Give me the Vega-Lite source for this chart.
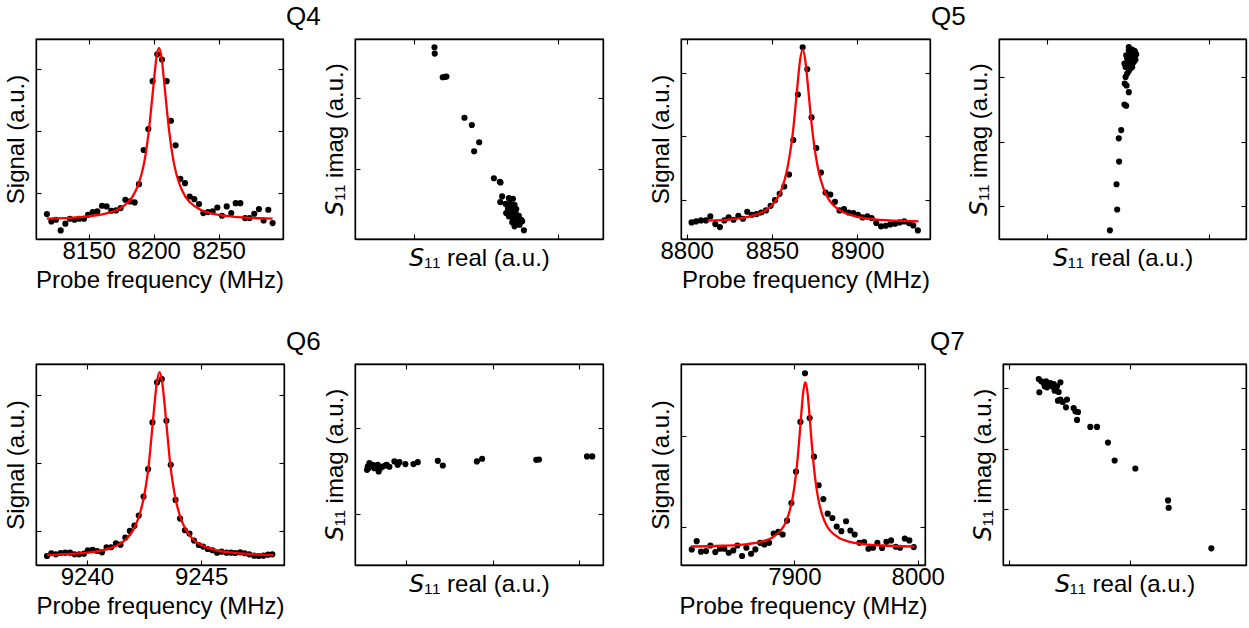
{
"$schema": "https://vega.github.io/schema/vega-lite/v6.json",
"background": "white",
"padding": {"left": 3, "top": 3, "right": 0, "bottom": 0},
"config": {
  "view": {"stroke": "black", "strokeWidth": 1.3},
  "axis": {"domainColor": "black", "domainWidth": 1.3, "tickColor": "black", "tickWidth": 1.1, "tickSize": -5, "grid": false,
    "labelFont": "Liberation Sans", "labelFontSize": 24, "labelColor": "black", "labelPadding": 5.7, "labelFlush": false,
    "titleFont": "Liberation Sans", "titleFontSize": 24, "titleFontWeight": "normal", "titleColor": "black"},
  "title": {"font": "Liberation Sans", "fontSize": 26, "fontWeight": "normal", "color": "black", "anchor": "start", "frame": "group", "baseline": "alphabetic", "offset": 8}
},
"datasets": {
  "q4_spec": [{"f":8117.9,"s":0.662},{"f":8121.3,"s":0.544},{"f":8124.9,"s":0.571},{"f":8128.5,"s":0.399},{"f":8132.1,"s":0.507},{"f":8135.6,"s":0.587},{"f":8139.2,"s":0.571},{"f":8142.8,"s":0.587},{"f":8146.4,"s":0.587},{"f":8149.5,"s":0.651},{"f":8153.1,"s":0.694},{"f":8156.7,"s":0.705},{"f":8160.3,"s":0.796},{"f":8163.8,"s":0.786},{"f":8167.4,"s":0.716},{"f":8171.0,"s":0.721},{"f":8174.6,"s":0.759},{"f":8178.2,"s":0.893},{"f":8181.8,"s":0.866},{"f":8185.4,"s":0.850},{"f":8188.7,"s":1.145},{"f":8192.3,"s":1.697},{"f":8195.9,"s":2.035},{"f":8199.2,"s":2.807},{"f":8202.8,"s":3.241},{"f":8206.4,"s":3.156},{"f":8210.0,"s":2.807},{"f":8213.3,"s":2.169},{"f":8216.9,"s":1.772},{"f":8220.5,"s":1.231},{"f":8224.1,"s":1.161},{"f":8227.7,"s":0.946},{"f":8231.3,"s":0.903},{"f":8234.9,"s":0.823},{"f":8238.2,"s":0.678},{"f":8241.8,"s":0.694},{"f":8245.4,"s":0.705},{"f":8249.0,"s":0.769},{"f":8252.6,"s":0.635},{"f":8256.2,"s":0.786},{"f":8259.7,"s":0.678},{"f":8263.1,"s":0.839},{"f":8266.7,"s":0.839},{"f":8270.3,"s":0.598},{"f":8273.8,"s":0.598},{"f":8277.4,"s":0.668},{"f":8281.0,"s":0.743},{"f":8284.6,"s":0.560},{"f":8288.2,"s":0.732},{"f":8291.5,"s":0.517}],
  "q4_fit": [{"f":8117.9,"s":0.590},{"f":8123.3,"s":0.593},{"f":8147.5,"s":0.622},{"f":8163.7,"s":0.673},{"f":8171.8,"s":0.729},{"f":8179.9,"s":0.844},{"f":8183.9,"s":0.949},{"f":8187.9,"s":1.121},{"f":8192.0,"s":1.420},{"f":8194.0,"s":1.650},{"f":8196.0,"s":1.955},{"f":8198.0,"s":2.343},{"f":8200.1,"s":2.788},{"f":8202.1,"s":3.180},{"f":8204.1,"s":3.343},{"f":8206.1,"s":3.180},{"f":8208.1,"s":2.788},{"f":8210.2,"s":2.343},{"f":8212.2,"s":1.955},{"f":8214.2,"s":1.650},{"f":8216.2,"s":1.420},{"f":8220.3,"s":1.121},{"f":8224.3,"s":0.949},{"f":8228.3,"s":0.844},{"f":8236.4,"s":0.729},{"f":8244.5,"s":0.673},{"f":8260.7,"s":0.622},{"f":8284.9,"s":0.593},{"f":8291.5,"s":0.590}],
  "q4_iq": [{"re":0.144,"im":1.707},{"re":0.146,"im":1.619},{"re":0.201,"im":1.288},{"re":0.218,"im":1.293},{"re":0.227,"im":1.298},{"re":0.352,"im":0.721},{"re":0.403,"im":0.619},{"re":0.454,"im":0.377},{"re":0.419,"im":0.251},{"re":0.556,"im":-0.126},{"re":0.597,"im":-0.177},{"re":0.602,"im":-0.186},{"re":0.613,"im":-0.381},{"re":0.660,"im":-0.405},{"re":0.688,"im":-0.414},{"re":0.600,"im":-0.460},{"re":0.637,"im":-0.484},{"re":0.669,"im":-0.484},{"re":0.699,"im":-0.498},{"re":0.653,"im":-0.544},{"re":0.683,"im":-0.544},{"re":0.711,"im":-0.558},{"re":0.641,"im":-0.614},{"re":0.676,"im":-0.614},{"re":0.706,"im":-0.605},{"re":0.660,"im":-0.660},{"re":0.699,"im":-0.670},{"re":0.729,"im":-0.651},{"re":0.688,"im":-0.707},{"re":0.715,"im":-0.707},{"re":0.745,"im":-0.707},{"re":0.683,"im":-0.744},{"re":0.722,"im":-0.744},{"re":0.752,"im":-0.730},{"re":0.706,"im":-0.777},{"re":0.734,"im":-0.777},{"re":0.699,"im":-0.800},{"re":0.764,"im":-0.856}],
  "q5_spec": [{"f":8802.9,"s":0.651},{"f":8805.5,"s":0.667},{"f":8808.4,"s":0.682},{"f":8811.3,"s":0.682},{"f":8813.9,"s":0.745},{"f":8816.8,"s":0.625},{"f":8819.5,"s":0.578},{"f":8822.1,"s":0.682},{"f":8824.6,"s":0.729},{"f":8827.5,"s":0.693},{"f":8830.3,"s":0.755},{"f":8833.0,"s":0.708},{"f":8835.5,"s":0.818},{"f":8838.3,"s":0.771},{"f":8841.0,"s":0.781},{"f":8843.7,"s":0.807},{"f":8846.5,"s":0.839},{"f":8849.2,"s":0.911},{"f":8851.8,"s":1.000},{"f":8854.5,"s":1.099},{"f":8857.2,"s":1.214},{"f":8860.0,"s":1.401},{"f":8862.5,"s":1.943},{"f":8865.2,"s":2.656},{"f":8868.0,"s":3.396},{"f":8870.7,"s":3.052},{"f":8873.2,"s":2.297},{"f":8876.0,"s":1.818},{"f":8878.7,"s":1.432},{"f":8881.4,"s":1.120},{"f":8884.2,"s":1.089},{"f":8886.9,"s":0.974},{"f":8889.6,"s":0.839},{"f":8892.2,"s":0.859},{"f":8894.9,"s":0.807},{"f":8897.7,"s":0.797},{"f":8900.4,"s":0.771},{"f":8903.1,"s":0.729},{"f":8905.9,"s":0.745},{"f":8908.4,"s":0.719},{"f":8911.1,"s":0.641},{"f":8913.9,"s":0.589},{"f":8916.6,"s":0.599},{"f":8919.3,"s":0.620},{"f":8922.1,"s":0.630},{"f":8924.8,"s":0.651},{"f":8927.5,"s":0.667},{"f":8930.3,"s":0.641},{"f":8932.8,"s":0.604},{"f":8935.5,"s":0.526}],
  "q5_fit": [{"f":8812.3,"s":0.678},{"f":8825.65,"s":0.700},{"f":8837.75,"s":0.750},{"f":8843.8,"s":0.806},{"f":8849.85,"s":0.917},{"f":8852.9,"s":1.020},{"f":8855.9,"s":1.189},{"f":8858.9,"s":1.481},{"f":8860.4,"s":1.705},{"f":8862.0,"s":2.003},{"f":8863.5,"s":2.382},{"f":8865.0,"s":2.816},{"f":8866.5,"s":3.199},{"f":8868.0,"s":3.359},{"f":8869.5,"s":3.199},{"f":8871.0,"s":2.816},{"f":8872.5,"s":2.382},{"f":8874.05,"s":2.003},{"f":8875.6,"s":1.705},{"f":8877.1,"s":1.481},{"f":8880.1,"s":1.189},{"f":8883.1,"s":1.020},{"f":8886.15,"s":0.917},{"f":8892.2,"s":0.806},{"f":8898.25,"s":0.750},{"f":8910.35,"s":0.700},{"f":8928.5,"s":0.673},{"f":8935.9,"s":0.667}],
  "q5_iq": [{"re":0.388,"im":-0.376},{"re":0.433,"im":-0.052},{"re":0.429,"im":0.340},{"re":0.445,"im":0.691},{"re":0.443,"im":1.052},{"re":0.458,"im":1.180},{"re":0.478,"im":1.577},{"re":0.489,"im":1.557},{"re":0.505,"im":1.768},{"re":0.480,"im":1.902},{"re":0.491,"im":1.871},{"re":0.485,"im":2.005},{"re":0.495,"im":2.057},{"re":0.505,"im":2.098},{"re":0.515,"im":2.134},{"re":0.485,"im":2.160},{"re":0.501,"im":2.186},{"re":0.526,"im":2.160},{"re":0.478,"im":2.211},{"re":0.509,"im":2.237},{"re":0.536,"im":2.237},{"re":0.495,"im":2.289},{"re":0.522,"im":2.314},{"re":0.546,"im":2.273},{"re":0.489,"im":2.340},{"re":0.515,"im":2.366},{"re":0.536,"im":2.376},{"re":0.551,"im":2.356},{"re":0.505,"im":2.418},{"re":0.526,"im":2.428},{"re":0.505,"im":2.469},{"re":0.542,"im":2.407}],
  "q6_spec": [{"f":9238.25,"s":0.632},{"f":9238.44,"s":0.672},{"f":9238.64,"s":0.657},{"f":9238.85,"s":0.676},{"f":9239.05,"s":0.681},{"f":9239.26,"s":0.681},{"f":9239.46,"s":0.657},{"f":9239.66,"s":0.657},{"f":9239.87,"s":0.667},{"f":9240.04,"s":0.716},{"f":9240.25,"s":0.721},{"f":9240.45,"s":0.706},{"f":9240.66,"s":0.686},{"f":9240.86,"s":0.760},{"f":9241.06,"s":0.760},{"f":9241.27,"s":0.819},{"f":9241.47,"s":0.799},{"f":9241.68,"s":0.902},{"f":9241.88,"s":1.000},{"f":9242.08,"s":1.078},{"f":9242.27,"s":1.225},{"f":9242.48,"s":1.505},{"f":9242.68,"s":1.907},{"f":9242.87,"s":2.593},{"f":9243.07,"s":3.181},{"f":9243.28,"s":3.230},{"f":9243.48,"s":2.618},{"f":9243.67,"s":1.971},{"f":9243.88,"s":1.456},{"f":9244.08,"s":1.181},{"f":9244.29,"s":1.010},{"f":9244.49,"s":0.961},{"f":9244.69,"s":0.858},{"f":9244.90,"s":0.794},{"f":9245.09,"s":0.770},{"f":9245.29,"s":0.735},{"f":9245.50,"s":0.716},{"f":9245.70,"s":0.681},{"f":9245.90,"s":0.696},{"f":9246.11,"s":0.681},{"f":9246.31,"s":0.681},{"f":9246.50,"s":0.676},{"f":9246.71,"s":0.686},{"f":9246.91,"s":0.672},{"f":9247.11,"s":0.657},{"f":9247.32,"s":0.637},{"f":9247.52,"s":0.632},{"f":9247.73,"s":0.637},{"f":9247.93,"s":0.652},{"f":9248.12,"s":0.657}],
  "q6_fit": [{"f":9238.25,"s":0.648},{"f":9238.44,"s":0.650},{"f":9239.86,"s":0.677},{"f":9240.81,"s":0.727},{"f":9241.28,"s":0.782},{"f":9241.76,"s":0.894},{"f":9242.0,"s":0.997},{"f":9242.23,"s":1.165},{"f":9242.47,"s":1.457},{"f":9242.59,"s":1.680},{"f":9242.71,"s":1.978},{"f":9242.82,"s":2.357},{"f":9242.94,"s":2.791},{"f":9243.06,"s":3.174},{"f":9243.18,"s":3.333},{"f":9243.30,"s":3.174},{"f":9243.42,"s":2.791},{"f":9243.54,"s":2.357},{"f":9243.65,"s":1.978},{"f":9243.77,"s":1.680},{"f":9243.89,"s":1.457},{"f":9244.13,"s":1.165},{"f":9244.37,"s":0.997},{"f":9244.60,"s":0.894},{"f":9245.08,"s":0.782},{"f":9245.55,"s":0.727},{"f":9246.50,"s":0.677},{"f":9247.92,"s":0.650},{"f":9248.16,"s":0.647}],
  "q6_iq": [{"re":-0.452,"im":0.512},{"re":-0.444,"im":0.550},{"re":-0.425,"im":0.589},{"re":-0.436,"im":0.531},{"re":-0.405,"im":0.550},{"re":-0.386,"im":0.570},{"re":-0.367,"im":0.531},{"re":-0.347,"im":0.550},{"re":-0.328,"im":0.570},{"re":-0.317,"im":0.492},{"re":-0.309,"im":0.523},{"re":-0.290,"im":0.539},{"re":-0.270,"im":0.550},{"re":-0.239,"im":0.562},{"re":-0.224,"im":0.570},{"re":-0.193,"im":0.547},{"re":-0.135,"im":0.609},{"re":-0.097,"im":0.570},{"re":-0.077,"im":0.601},{"re":-0.008,"im":0.578},{"re":0.085,"im":0.578},{"re":0.135,"im":0.601},{"re":0.367,"im":0.616},{"re":0.425,"im":0.562},{"re":0.819,"im":0.609},{"re":0.880,"im":0.640},{"re":1.506,"im":0.628},{"re":1.537,"im":0.632},{"re":2.093,"im":0.667},{"re":2.154,"im":0.667}],
  "q7_spec": [{"f":7816.8,"s":0.758},{"f":7820.8,"s":0.848},{"f":7824.3,"s":0.733},{"f":7828.4,"s":0.740},{"f":7831.9,"s":0.801},{"f":7835.9,"s":0.729},{"f":7839.7,"s":0.765},{"f":7843.2,"s":0.765},{"f":7846.8,"s":0.722},{"f":7850.5,"s":0.747},{"f":7853.8,"s":0.801},{"f":7857.6,"s":0.686},{"f":7861.1,"s":0.776},{"f":7864.9,"s":0.711},{"f":7868.4,"s":0.758},{"f":7872.2,"s":0.830},{"f":7875.7,"s":0.812},{"f":7879.5,"s":0.830},{"f":7883.2,"s":0.931},{"f":7887.0,"s":0.949},{"f":7890.5,"s":0.921},{"f":7894.1,"s":1.072},{"f":7897.6,"s":1.264},{"f":7901.4,"s":1.606},{"f":7904.9,"s":2.148},{"f":7908.6,"s":2.679},{"f":7912.4,"s":2.191},{"f":7915.9,"s":1.769},{"f":7919.7,"s":1.458},{"f":7923.5,"s":1.307},{"f":7927.0,"s":1.148},{"f":7930.8,"s":1.101},{"f":7934.3,"s":1.007},{"f":7938.1,"s":0.957},{"f":7941.9,"s":1.065},{"f":7945.4,"s":0.964},{"f":7948.9,"s":0.921},{"f":7952.7,"s":0.830},{"f":7956.5,"s":0.838},{"f":7960.0,"s":0.765},{"f":7963.8,"s":0.776},{"f":7967.3,"s":0.830},{"f":7971.1,"s":0.773},{"f":7974.6,"s":0.841},{"f":7978.4,"s":0.856},{"f":7982.2,"s":0.787},{"f":7985.7,"s":0.776},{"f":7989.5,"s":0.877},{"f":7993.2,"s":0.856},{"f":7996.8,"s":0.783}],
  "q7_fit": [{"f":7816.2,"s":0.790},{"f":7841.3,"s":0.798},{"f":7861.58,"s":0.816},{"f":7875.1,"s":0.849},{"f":7881.86,"s":0.886},{"f":7888.62,"s":0.960},{"f":7892.0,"s":1.028},{"f":7895.38,"s":1.140},{"f":7898.76,"s":1.334},{"f":7900.45,"s":1.483},{"f":7902.14,"s":1.681},{"f":7903.83,"s":1.933},{"f":7905.52,"s":2.221},{"f":7907.21,"s":2.475},{"f":7908.9,"s":2.581},{"f":7910.59,"s":2.475},{"f":7912.28,"s":2.221},{"f":7913.97,"s":1.933},{"f":7915.66,"s":1.681},{"f":7917.35,"s":1.483},{"f":7919.04,"s":1.334},{"f":7922.42,"s":1.140},{"f":7925.8,"s":1.028},{"f":7929.18,"s":0.960},{"f":7935.94,"s":0.886},{"f":7942.7,"s":0.849},{"f":7956.22,"s":0.816},{"f":7976.5,"s":0.798},{"f":7997.3,"s":0.790}],
  "q7_iq": [{"re":-0.753,"im":2.148},{"re":-0.748,"im":1.929},{"re":-0.732,"im":2.110},{"re":-0.712,"im":2.082},{"re":-0.693,"im":2.110},{"re":-0.671,"im":2.055},{"re":-0.704,"im":2.027},{"re":-0.685,"im":2.011},{"re":-0.658,"im":2.082},{"re":-0.644,"im":2.027},{"re":-0.630,"im":2.066},{"re":-0.616,"im":2.000},{"re":-0.603,"im":2.027},{"re":-0.575,"im":2.093},{"re":-0.622,"im":1.956},{"re":-0.589,"im":1.934},{"re":-0.595,"im":1.791},{"re":-0.575,"im":1.808},{"re":-0.556,"im":1.769},{"re":-0.521,"im":1.808},{"re":-0.529,"im":1.681},{"re":-0.466,"im":1.670},{"re":-0.452,"im":1.615},{"re":-0.430,"im":1.604},{"re":-0.438,"im":1.473},{"re":-0.329,"im":1.357},{"re":-0.274,"im":1.357},{"re":-0.184,"im":1.099},{"re":-0.129,"im":0.802},{"re":0.041,"im":0.670},{"re":0.310,"im":0.143},{"re":0.315,"im":0.022},{"re":0.666,"im":-0.648}]
},
"vconcat": [
  {"hconcat": [
    {"hconcat": [
      {"width": 247, "height": 200,
       "layer": [
        {"data": {"name": "q4_spec"}, "mark": {"type": "circle", "size": 38, "color": "black", "opacity": 1},
         "encoding": {
          "x": {"field": "f", "type": "quantitative", "scale": {"domain": [8109.5, 8299.5], "nice": false, "zero": false}, "axis": {"orient": "bottom", "values": [8150, 8200, 8250], "format": "d", "title": "Probe frequency (MHz)", "titlePadding": 4.5}},
          "y": {"field": "s", "type": "quantitative", "scale": {"domain": [0.26, 3.488], "nice": false, "zero": false}, "axis": {"orient": "left", "values": [1, 2, 3], "labels": false, "title": "Signal (a.u.)", "titlePadding": 7}}}},
        {"data": {"name": "q4_fit"}, "mark": {"type": "line", "color": "#ff0000", "strokeWidth": 2.3, "interpolate": "monotone"},
         "encoding": {
          "x": {"field": "f", "type": "quantitative", "scale": {"domain": [8109.5, 8299.5], "nice": false, "zero": false}, "axis": {"orient": "top", "values": [8150, 8200, 8250], "labels": false, "title": null}},
          "y": {"field": "s", "type": "quantitative", "scale": {"domain": [0.26, 3.488], "nice": false, "zero": false}, "axis": {"orient": "right", "values": [1, 2, 3], "labels": false, "title": null}}}}
       ],
       "resolve": {"axis": {"x": "independent", "y": "independent"}}},
      {"width": 248, "height": 200,
       "title": {"text": "Q4", "dx": -69},
       "layer": [
        {"data": {"name": "q4_iq"}, "mark": {"type": "circle", "size": 38, "color": "black", "opacity": 1},
         "encoding": {
          "x": {"field": "re", "type": "quantitative", "scale": {"domain": [-0.407, 1.3125], "nice": false, "zero": false}, "axis": {"orient": "bottom", "values": [0, 1], "labels": false, "title": "𝘚₁₁ real (a.u.)", "titlePadding": 6.7}},
          "y": {"field": "im", "type": "quantitative", "scale": {"domain": [-0.977, 1.823], "nice": false, "zero": false}, "axis": {"orient": "left", "values": [0, 1], "labels": false, "title": "𝘚₁₁ imag (a.u.)", "titlePadding": 7}}}},
        {"data": {"name": "q4_iq"}, "mark": {"type": "circle", "size": 38, "color": "black", "opacity": 0},
         "encoding": {
          "x": {"field": "re", "type": "quantitative", "scale": {"domain": [-0.407, 1.3125], "nice": false, "zero": false}, "axis": {"orient": "top", "values": [0, 1], "labels": false, "title": null}},
          "y": {"field": "im", "type": "quantitative", "scale": {"domain": [-0.977, 1.823], "nice": false, "zero": false}, "axis": {"orient": "right", "values": [0, 1], "labels": false, "title": null}}}}
       ],
       "resolve": {"axis": {"x": "independent", "y": "independent"}}}
    ], "spacing": 72, "bounds": "flush"},
    {"hconcat": [
      {"width": 249, "height": 200,
       "layer": [
        {"data": {"name": "q5_spec"}, "mark": {"type": "circle", "size": 38, "color": "black", "opacity": 1},
         "encoding": {
          "x": {"field": "f", "type": "quantitative", "scale": {"domain": [8796.7, 8942.6], "nice": false, "zero": false}, "axis": {"orient": "bottom", "values": [8800, 8850, 8900], "format": "d", "title": "Probe frequency (MHz)", "titlePadding": 4.5}},
          "y": {"field": "s", "type": "quantitative", "scale": {"domain": [0.391, 3.526], "nice": false, "zero": false}, "axis": {"orient": "left", "values": [1, 2, 3], "labels": false, "title": "Signal (a.u.)", "titlePadding": 7}}}},
        {"data": {"name": "q5_fit"}, "mark": {"type": "line", "color": "#ff0000", "strokeWidth": 2.3, "interpolate": "monotone"},
         "encoding": {
          "x": {"field": "f", "type": "quantitative", "scale": {"domain": [8796.7, 8942.6], "nice": false, "zero": false}, "axis": {"orient": "top", "values": [8800, 8850, 8900], "labels": false, "title": null}},
          "y": {"field": "s", "type": "quantitative", "scale": {"domain": [0.391, 3.526], "nice": false, "zero": false}, "axis": {"orient": "right", "values": [1, 2, 3], "labels": false, "title": null}}}}
       ],
       "resolve": {"axis": {"x": "independent", "y": "independent"}}},
      {"width": 247, "height": 200,
       "title": {"text": "Q5", "dx": -68},
       "layer": [
        {"data": {"name": "q5_iq"}, "mark": {"type": "circle", "size": 38, "color": "black", "opacity": 1},
         "encoding": {
          "x": {"field": "re", "type": "quantitative", "scale": {"domain": [-0.299, 1.231], "nice": false, "zero": false}, "axis": {"orient": "bottom", "values": [0, 1], "labels": false, "title": "𝘚₁₁ real (a.u.)", "titlePadding": 6.7}},
          "y": {"field": "im", "type": "quantitative", "scale": {"domain": [-0.51, 2.593], "nice": false, "zero": false}, "axis": {"orient": "left", "values": [0, 1, 2], "labels": false, "title": "𝘚₁₁ imag (a.u.)", "titlePadding": 7}}}},
        {"data": {"name": "q5_iq"}, "mark": {"type": "circle", "size": 38, "color": "black", "opacity": 0},
         "encoding": {
          "x": {"field": "re", "type": "quantitative", "scale": {"domain": [-0.299, 1.231], "nice": false, "zero": false}, "axis": {"orient": "top", "values": [0, 1], "labels": false, "title": null}},
          "y": {"field": "im", "type": "quantitative", "scale": {"domain": [-0.51, 2.593], "nice": false, "zero": false}, "axis": {"orient": "right", "values": [0, 1, 2], "labels": false, "title": null}}}}
       ],
       "resolve": {"axis": {"x": "independent", "y": "independent"}}}
    ], "spacing": 69, "bounds": "flush"}
  ], "spacing": 43},
  {"hconcat": [
    {"hconcat": [
      {"width": 248, "height": 201,
       "layer": [
        {"data": {"name": "q6_spec"}, "mark": {"type": "circle", "size": 38, "color": "black", "opacity": 1},
         "encoding": {
          "x": {"field": "f", "type": "quantitative", "scale": {"domain": [9237.77, 9248.63], "nice": false, "zero": false}, "axis": {"orient": "bottom", "values": [9240, 9245], "format": "d", "title": "Probe frequency (MHz)", "titlePadding": 4.5}},
          "y": {"field": "s", "type": "quantitative", "scale": {"domain": [0.5, 3.451], "nice": false, "zero": false}, "axis": {"orient": "left", "values": [1, 2, 3], "labels": false, "title": "Signal (a.u.)", "titlePadding": 7}}}},
        {"data": {"name": "q6_fit"}, "mark": {"type": "line", "color": "#ff0000", "strokeWidth": 2.3, "interpolate": "monotone"},
         "encoding": {
          "x": {"field": "f", "type": "quantitative", "scale": {"domain": [9237.77, 9248.63], "nice": false, "zero": false}, "axis": {"orient": "top", "values": [9240, 9245], "labels": false, "title": null}},
          "y": {"field": "s", "type": "quantitative", "scale": {"domain": [0.5, 3.451], "nice": false, "zero": false}, "axis": {"orient": "right", "values": [1, 2, 3], "labels": false, "title": null}}}}
       ],
       "resolve": {"axis": {"x": "independent", "y": "independent"}}},
      {"width": 248, "height": 201,
       "title": {"text": "Q6", "dx": -69},
       "layer": [
        {"data": {"name": "q6_iq"}, "mark": {"type": "circle", "size": 38, "color": "black", "opacity": 1},
         "encoding": {
          "x": {"field": "re", "type": "quantitative", "scale": {"domain": [-0.591, 2.278], "nice": false, "zero": false}, "axis": {"orient": "bottom", "values": [0, 1, 2], "labels": false, "title": "𝘚₁₁ real (a.u.)", "titlePadding": 6.7}},
          "y": {"field": "im", "type": "quantitative", "scale": {"domain": [-0.593, 1.74], "nice": false, "zero": false}, "axis": {"orient": "left", "values": [0, 1], "labels": false, "title": "𝘚₁₁ imag (a.u.)", "titlePadding": 7}}}},
        {"data": {"name": "q6_iq"}, "mark": {"type": "circle", "size": 38, "color": "black", "opacity": 0},
         "encoding": {
          "x": {"field": "re", "type": "quantitative", "scale": {"domain": [-0.591, 2.278], "nice": false, "zero": false}, "axis": {"orient": "top", "values": [0, 1, 2], "labels": false, "title": null}},
          "y": {"field": "im", "type": "quantitative", "scale": {"domain": [-0.593, 1.74], "nice": false, "zero": false}, "axis": {"orient": "right", "values": [0, 1], "labels": false, "title": null}}}}
       ],
       "resolve": {"axis": {"x": "independent", "y": "independent"}}}
    ], "spacing": 71, "bounds": "flush"},
    {"hconcat": [
      {"width": 244, "height": 201,
       "layer": [
        {"data": {"name": "q7_spec"}, "mark": {"type": "circle", "size": 38, "color": "black", "opacity": 1},
         "encoding": {
          "x": {"field": "f", "type": "quantitative", "scale": {"domain": [7808.1, 8005.9], "nice": false, "zero": false}, "axis": {"orient": "bottom", "values": [7900, 8000], "format": "d", "title": "Probe frequency (MHz)", "titlePadding": 4.5}},
          "y": {"field": "s", "type": "quantitative", "scale": {"domain": [0.588, 2.78], "nice": false, "zero": false}, "axis": {"orient": "left", "values": [1, 2], "labels": false, "title": "Signal (a.u.)", "titlePadding": 7}}}},
        {"data": {"name": "q7_fit"}, "mark": {"type": "line", "color": "#ff0000", "strokeWidth": 2.3, "interpolate": "monotone"},
         "encoding": {
          "x": {"field": "f", "type": "quantitative", "scale": {"domain": [7808.1, 8005.9], "nice": false, "zero": false}, "axis": {"orient": "top", "values": [7900, 8000], "labels": false, "title": null}},
          "y": {"field": "s", "type": "quantitative", "scale": {"domain": [0.588, 2.78], "nice": false, "zero": false}, "axis": {"orient": "right", "values": [1, 2], "labels": false, "title": null}}}}
       ],
       "resolve": {"axis": {"x": "independent", "y": "independent"}}},
      {"width": 243, "height": 201,
       "title": {"text": "Q7", "dx": -73},
       "layer": [
        {"data": {"name": "q7_iq"}, "mark": {"type": "circle", "size": 38, "color": "black", "opacity": 1},
         "encoding": {
          "x": {"field": "re", "type": "quantitative", "scale": {"domain": [-1.047, 0.951], "nice": false, "zero": false}, "axis": {"orient": "bottom", "values": [-1, 0], "labels": false, "title": "𝘚₁₁ real (a.u.)", "titlePadding": 6.7}},
          "y": {"field": "im", "type": "quantitative", "scale": {"domain": [-0.923, 2.396], "nice": false, "zero": false}, "axis": {"orient": "left", "values": [0, 1, 2], "labels": false, "title": "𝘚₁₁ imag (a.u.)", "titlePadding": 7}}}},
        {"data": {"name": "q7_iq"}, "mark": {"type": "circle", "size": 38, "color": "black", "opacity": 0},
         "encoding": {
          "x": {"field": "re", "type": "quantitative", "scale": {"domain": [-1.047, 0.951], "nice": false, "zero": false}, "axis": {"orient": "top", "values": [-1, 0], "labels": false, "title": null}},
          "y": {"field": "im", "type": "quantitative", "scale": {"domain": [-0.923, 2.396], "nice": false, "zero": false}, "axis": {"orient": "right", "values": [0, 1, 2], "labels": false, "title": null}}}}
       ],
       "resolve": {"axis": {"x": "independent", "y": "independent"}}}
    ], "spacing": 78, "bounds": "flush"}
  ], "spacing": 43}
], "spacing": 35
}
